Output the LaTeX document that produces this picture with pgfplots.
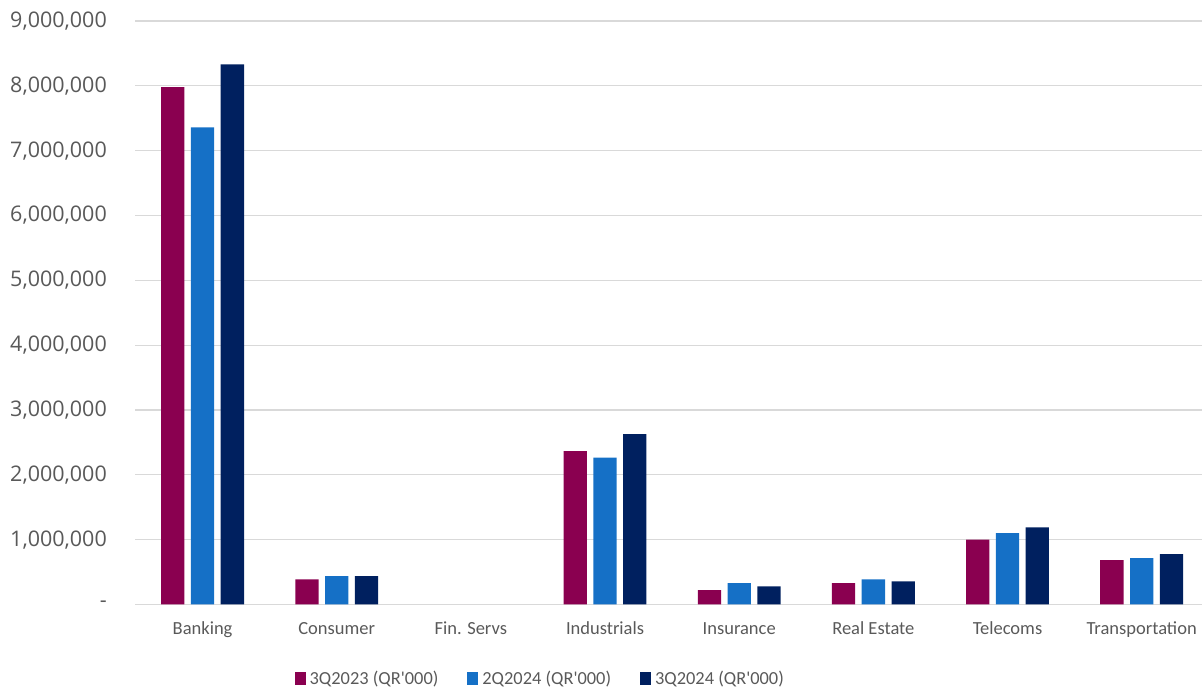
\documentclass[border=0pt]{standalone}
\usepackage{pgfplots}
\pgfplotsset{compat=1.18}
\usepackage{fontspec}
\setmainfont{Carlito}
\newfontfamily\legfont{Carlito}
\newfontfamily\ytickfont{Open Sans}

\definecolor{sPurple}{HTML}{8A0050}
\definecolor{sBlue}{HTML}{1570C6}
\definecolor{sNavy}{HTML}{00205F}
\definecolor{txtGray}{HTML}{595959}
\definecolor{gridGray}{HTML}{D9D9D9}

\begin{document}
\begin{tikzpicture}
  \path[use as bounding box] (0,0) rectangle (1202pt,690pt);
  \begin{axis}[
      at={(135.5pt,85.5pt)}, anchor=south west,
      scale only axis,
      width=1066.5pt, height=583.5pt,
      ybar=0pt,
      bar width=23.3pt,
      xmin=-0.5, xmax=7.45,
      ymin=0, ymax=9000000,
      axis line style={draw=none},
      major tick length=0pt,
      ymajorgrids,
      grid style={color=gridGray, line width=1.3pt},
      ytick={0,1000000,2000000,3000000,4000000,5000000,6000000,7000000,8000000,9000000},
      yticklabels={-\hspace{10.5pt},{1,000,000},{2,000,000},{3,000,000},{4,000,000},{5,000,000},{6,000,000},{7,000,000},{8,000,000},{9,000,000}},
      yticklabel style={font=\ytickfont\fontsize{21.5}{24}\selectfont, text=txtGray, anchor=east, inner sep=0pt, xshift=-28.5pt},
      scaled y ticks=false,
      xtick={0,1,2,3,4,5,6,7},
      xticklabels={Banking,Consumer,Fin. Servs,Industrials,Insurance,Real Estate,Telecoms,Transportation},
      xticklabel style={font=\fontsize{18.5}{21}\selectfont, text=txtGray, anchor=base, inner sep=0pt, yshift=-30.5pt},
      legend columns=3,
      legend style={at={(0.3795,-0.1277)}, anchor=center, draw=none, fill=none,
        font=\legfont\fontsize{18.4}{22}\selectfont, text=txtGray,
        /tikz/every even column/.append style={column sep=27pt},
        /tikz/every odd column/.append style={column sep=2pt}},
      legend image code/.code={\fill[#1] (0pt,-6pt) rectangle (11pt,7pt);},
    ]
    % Fin. Servs (x=2) has no bars
    \addplot[fill=sPurple, draw=none, bar shift=-29.8pt] coordinates {
      (0,7980000) (1,386000) (3,2365000) (4,221000) (5,330000) (6,1000000) (7,685000)
    };
    \addplot[fill=sBlue, draw=none, bar shift=0pt] coordinates {
      (0,7360000) (1,437000) (3,2266000) (4,329000) (5,387000) (6,1100000) (7,716000)
    };
    \addplot[fill=sNavy, draw=none, bar shift=29.8pt] coordinates {
      (0,8330000) (1,437000) (3,2627000) (4,278000) (5,356000) (6,1190000) (7,778000)
    };
    \legend{3Q2023 (QR'000),2Q2024 (QR'000),3Q2024 (QR'000)}
  \end{axis}
\end{tikzpicture}
\end{document}
